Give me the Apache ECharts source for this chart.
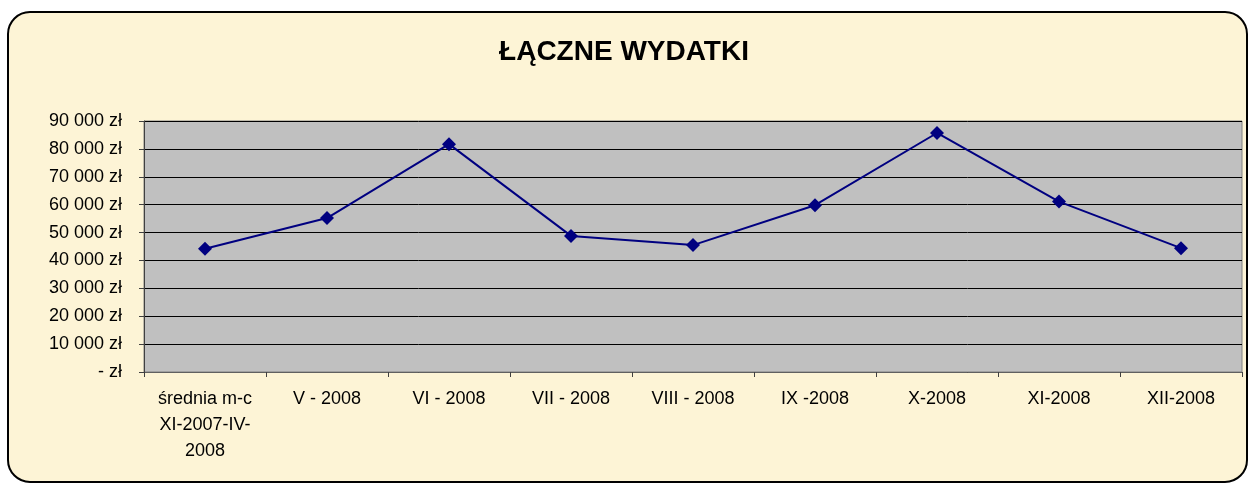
<!DOCTYPE html>
<html>
<head>
<meta charset="utf-8">
<script src="https://cdn.jsdelivr.net/npm/echarts@6/dist/echarts.min.js"></script>
<style>
    html, body { margin: 0; padding: 0; background: #ffffff; }
    #chart { width: 1248px; height: 484px; }
</style>
</head>
<body>
<div id="chart"></div>
<script>
// kategorie (oś X)
var categories = ['średnia m-c\nXI-2007-IV-\n2008', 'V - 2008', 'VI - 2008', 'VII - 2008', 'VIII - 2008', 'IX -2008', 'X-2008', 'XI-2008', 'XII-2008'];
// łączne wydatki w zł
var expenses = [44200, 55200, 81700, 48800, 45500, 59800, 85700, 61100, 44400];
// opisy osi Y
var yTicks = [0, 10000, 20000, 30000, 40000, 50000, 60000, 70000, 80000, 90000];
var yTickLabels = [' - zł', '10 000 zł', '20 000 zł', '30 000 zł', '40 000 zł', '50 000 zł', '60 000 zł', '70 000 zł', '80 000 zł', '90 000 zł'];

var font = '"Liberation Sans", Arial, sans-serif';
var myChart = echarts.init(document.getElementById('chart'));

var option = {
    animation: false,
    backgroundColor: 'transparent',
    textStyle: {
        fontFamily: font
    },
    // ramka wykresu
    graphic: [{
        type: 'rect',
        z: -10,
        silent: true,
        shape: { x: 8, y: 12, width: 1239, height: 470, r: 22 },
        style: {
            fill: '#fdf4d6',
            stroke: '#000000',
            lineWidth: 2
        }
    }],
    title: {
        text: 'ŁĄCZNE WYDATKI',
        left: 'center',
        top: 33,
        textStyle: {
            fontFamily: font,
            fontSize: 28,
            fontWeight: 'bold',
            color: '#000000'
        }
    },
    grid: {
        left: 144,
        top: 121,
        width: 1098,
        height: 251,
        show: true,
        backgroundColor: '#c0c0c0',
        borderColor: '#808080',
        borderWidth: 1
    },
    xAxis: {
        type: 'category',
        data: categories,
        boundaryGap: true,
        axisLine: {
            lineStyle: { color: '#606060', width: 1 }
        },
        axisTick: {
            show: true,
            length: 5,
            lineStyle: { color: '#404040' }
        },
        axisLabel: {
            interval: 0,
            margin: 14,
            color: '#000000',
            fontSize: 18,
            lineHeight: 26,
            fontFamily: font
        },
        splitLine: { show: false }
    },
    yAxis: {
        type: 'value',
        min: 0,
        max: 90000,
        interval: 10000,
        axisLine: {
            show: true,
            lineStyle: { color: '#404040', width: 1 }
        },
        axisTick: {
            show: true,
            length: 5,
            lineStyle: { color: '#404040' }
        },
        axisLabel: {
            margin: 22,
            color: '#000000',
            fontSize: 18,
            fontFamily: font,
            formatter: function (v) {
                return yTickLabels[yTicks.indexOf(v)];
            }
        },
        splitLine: {
            lineStyle: { color: '#000000', width: 1 }
        }
    },
    series: [
        {
            name: 'Łączne wydatki',
            type: 'line',
            data: expenses,
            symbol: 'diamond',
            symbolSize: 14,
            lineStyle: {
                color: '#000080',
                width: 2
            },
            itemStyle: {
                color: '#000080'
            }
        }
    ]
};

myChart.setOption(option);
</script>
</body>
</html>
